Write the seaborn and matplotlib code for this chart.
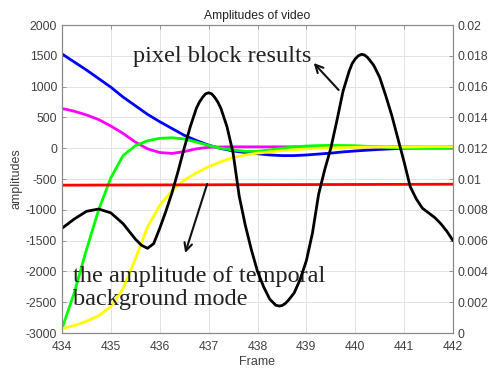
import numpy as np
import pandas as pd
import matplotlib
matplotlib.use("Agg")
import matplotlib.pyplot as plt
import seaborn as sns

# ---- data ----
frames_q = [434, 434.25, 434.5, 434.75, 435, 435.25, 435.5, 435.75, 436, 436.25, 436.5,
            436.75, 437, 437.25, 437.5, 437.75, 438, 438.25, 438.5, 438.75, 439, 439.25,
            439.5, 439.75, 440, 440.25, 440.5, 440.75, 441, 441.25, 441.5, 441.75, 442]
blue = [1530, 1400, 1270, 1130, 990, 830, 690, 550, 430, 320, 210, 125, 50, -5, -45, -70,
        -90, -110, -120, -120, -110, -95, -80, -60, -45, -32, -20, -10, 0, 5, 10, 15, 20]
magenta = [645, 600, 540, 465, 360, 240, 100, -10, -70, -85, -55, -10, 15, 20, 22, 22, 22,
           22, 22, 22, 22, 22, 22, 22, 22, 22, 22, 22, 22, 22, 22, 22, 22]
green = [-2930, -2350, -1650, -1000, -480, -120, 40, 120, 160, 170, 150, 100, 45, 0, -30,
         -50, -50, -30, 0, 20, 35, 42, 45, 43, 40, 30, 20, 10, 0, -3, -5, -5, -5]
yellow = [-2930, -2880, -2810, -2720, -2570, -2280, -1800, -1280, -930, -690, -520, -400,
          -300, -220, -150, -110, -80, -60, -40, -25, -10, 0, 5, 10, 15, 18, 20, 20, 20, 22,
          25, 25, 25]
frames_red = [434, 436, 438, 440, 442]
red = [-600, -596, -592, -589, -585]

frames_black = [434, 434.25, 434.5, 434.75, 435, 435.25, 435.5, 435.625, 435.75, 435.875,
                436, 436.125, 436.25, 436.375, 436.5, 436.625, 436.75, 436.8125, 436.875,
                436.9375, 437, 437.0625, 437.125, 437.1875,
                437.25, 437.375, 437.5, 437.625, 437.75, 437.875, 438, 438.125, 438.25,
                438.3125, 438.375, 438.45, 438.5, 438.5625, 438.625, 438.75, 438.875, 439,
                439.125, 439.25, 439.375, 439.5, 439.625, 439.75, 439.875, 439.9375, 440,
                440.0625, 440.13, 440.19, 440.25, 440.375, 440.5,
                440.625, 440.75, 440.875, 441, 441.125, 441.25, 441.375, 441.5, 441.625,
                441.75, 441.875, 442]
black = [0.0068, 0.0074, 0.0079, 0.00805, 0.0078, 0.0071, 0.0061, 0.0057, 0.0055, 0.0058,
         0.0068, 0.0079, 0.0091, 0.0105, 0.0120, 0.0134, 0.0146, 0.0150, 0.0153,
         0.01553, 0.0156, 0.01553, 0.0153, 0.0150,
         0.0146, 0.0134, 0.0117, 0.0089, 0.0070, 0.0054, 0.0040, 0.0030, 0.0022,
         0.0020, 0.0018, 0.00175, 0.00178, 0.0019, 0.0021, 0.0026, 0.0035, 0.0047,
         0.0065, 0.0090, 0.0106, 0.0120, 0.0138, 0.0157, 0.0170, 0.0175, 0.0178,
         0.0180, 0.0181, 0.01805, 0.0179, 0.0174, 0.0166,
         0.0154, 0.0141, 0.0126, 0.0111, 0.0095, 0.0087, 0.0081, 0.0078, 0.0075,
         0.0071, 0.0066, 0.0060]

x_ticks = [434, 435, 436, 437, 438, 439, 440, 441, 442]
left_ticks = [-3000, -2500, -2000, -1500, -1000, -500, 0, 500, 1000, 1500, 2000]
right_ticks = [0, 0.002, 0.004, 0.006, 0.008, 0.01, 0.012, 0.014, 0.016, 0.018, 0.02]

title = "Amplitudes of video"
xlabel = "Frame"
ylabel = "amplitudes"
note1 = "pixel block results"
note2a = "the amplitude of temporal"
note2b = "background mode"

# ---- drawing ----
sns.set_style("white")
plt.rcParams["font.family"] = ["Liberation Sans", "DejaVu Sans"]

fig = plt.figure(figsize=(4.9, 3.73), dpi=100)
ax = fig.add_axes([62 / 490, 1 - 333 / 373, (453 - 62) / 490, (333 - 25) / 373])
ax2 = ax.twinx()

lw = 2.0
for ys, c in [(blue, "#0000ff"), (magenta, "#ff00ff"), (green, "#00ff00"),
              (yellow, "#ffff00")]:
    sns.lineplot(x=frames_q, y=ys, ax=ax, color=c, linewidth=lw, sort=False,
                 solid_joinstyle="round")
sns.lineplot(x=frames_red, y=red, ax=ax, color="#ff0000", linewidth=lw, sort=False)
sns.lineplot(x=frames_black, y=black, ax=ax2, color="black", linewidth=lw, sort=False,
             solid_joinstyle="round")

ax.set_xlim(434, 442)
ax.set_ylim(-3000, 2000)
ax2.set_ylim(0, 0.02)
ax.set_xticks(x_ticks)
ax.set_xticklabels([str(v) for v in x_ticks])
ax.set_yticks(left_ticks)
ax.set_yticklabels([str(v) for v in left_ticks])
ax2.set_yticks(right_ticks)
ax2.set_yticklabels([f"{v:g}" for v in right_ticks])

ax.grid(True, color="#e3e3e3", linewidth=0.7)
ax.set_axisbelow(True)
ax2.grid(False)

tick_color = "#404040"
for a in (ax, ax2):
    for s in a.spines.values():
        s.set_color("#8a8a8a")
        s.set_linewidth(0.8)
    a.tick_params(direction="in", length=3, width=0.6, colors="#8a8a8a",
                  labelcolor=tick_color, labelsize=8.7)
ax.tick_params(top=True, axis="x", pad=6)
ax2.set_ylabel("")
ax2.set_xlabel("")

ax.set_title(title, fontsize=8.7, color="#222222", pad=4)
ax.set_xlabel(xlabel, fontsize=9, color=tick_color, labelpad=2)
ax.set_ylabel(ylabel, fontsize=9, color=tick_color, labelpad=2)

serif = ["Liberation Serif", "DejaVu Serif"]
ax.text(435.46, 1400, note1, family=serif, fontsize=17.5, color="#222222", va="baseline",
        ha="left", zorder=5)
ax.text(434.23, -2178, note2a, family=serif, fontsize=17.5, color="#222222", va="baseline",
        ha="left", zorder=5)
ax.text(434.23, -2552, note2b, family=serif, fontsize=17.5, color="#222222", va="baseline",
        ha="left", zorder=5)

arrow = dict(arrowstyle="->", lw=1.5, color="#111111", mutation_scale=14,
             shrinkA=0, shrinkB=0)
ax.annotate("", xy=(439.15, 1383), xytext=(439.66, 945), arrowprops=arrow, zorder=6)
ax.annotate("", xy=(436.52, -1701), xytext=(436.97, -581), arrowprops=arrow, zorder=6)

fig.savefig("out.png", dpi=100)
